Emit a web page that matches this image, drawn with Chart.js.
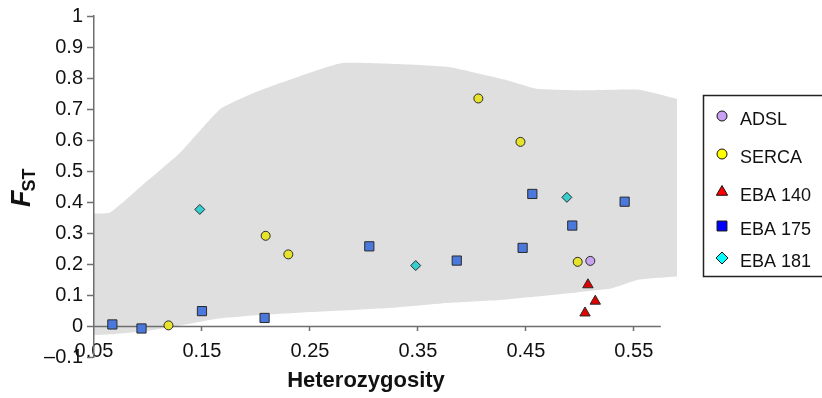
<!DOCTYPE html>
<html>
<head>
<meta charset="utf-8">
<script src="https://cdn.jsdelivr.net/npm/chart.js@4.4.1/dist/chart.umd.min.js"></script>
<style>
  html, body { margin: 0; padding: 0; background: #fff; }
</style>
</head>
<body>
<canvas id="chart" width="822" height="398"></canvas>
<script>
// simulated neutral envelope (grey band)
const shadeX     = [0.05, 0.065, 0.10, 0.13, 0.167, 0.20, 0.24, 0.28, 0.33, 0.38, 0.43, 0.46, 0.50, 0.53, 0.555, 0.59];
const shadeUpper = [0.363, 0.366, 0.47, 0.56, 0.70, 0.755, 0.805, 0.848, 0.845, 0.835, 0.795, 0.765, 0.76, 0.762, 0.762, 0.733];
const shadeLower = [-0.03, -0.027, -0.015, 0.002, 0.025, 0.035, 0.043, 0.05, 0.06, 0.075, 0.085, 0.095, 0.11, 0.122, 0.15, 0.16];

// loci
const adslX   = [0.5097];
const adslY   = [0.210];
const sercaX  = [0.119, 0.209, 0.230, 0.406, 0.445, 0.498];
const sercaY  = [0.002, 0.291, 0.231, 0.734, 0.594, 0.207];
const eba140X = [0.5075, 0.5143, 0.5048];
const eba140Y = [0.133, 0.080, 0.042];
const eba175X = [0.067, 0.094, 0.150, 0.208, 0.305, 0.386, 0.447, 0.456, 0.493, 0.5415];
const eba175Y = [0.005, -0.008, 0.048, 0.026, 0.257, 0.211, 0.252, 0.426, 0.324, 0.401];
const eba181X = [0.148, 0.348, 0.488];
const eba181Y = [0.376, 0.195, 0.415];

const xTickValues = [0.05, 0.15, 0.25, 0.35, 0.45, 0.55];
const xTickLabels = ['0.05', '0.15', '0.25', '0.35', '0.45', '0.55'];
const yTickValues = [-0.1, 0, 0.1, 0.2, 0.3, 0.4, 0.5, 0.6, 0.7, 0.8, 0.9, 1];
const yTickLabels = ['\u20130.1', '0', '0.1', '0.2', '0.3', '0.4', '0.5', '0.6', '0.7', '0.8', '0.9', '1'];
const xAxisEnd = 0.575;

const FONT = '"Liberation Sans", Arial, Helvetica, sans-serif';

function pts(xs, ys) {
    return xs.map((x, i) => ({ x: x, y: ys[i] }));
}

function marker(label, xs, ys, style, radius, fill, legendFill) {
    return {
        type: 'scatter',
        label: label,
        data: pts(xs, ys),
        pointStyle: style,
        pointRadius: radius,
        pointHoverRadius: radius,
        backgroundColor: fill,
        borderColor: '#2a2a2a',
        borderWidth: 1,
        legendFill: legendFill,
        order: 1
    };
}

const SHADE_INDEX = 5;

// titles, custom legend and the short x axis line
const decor = {
    id: 'decor',
    afterDatasetDraw(chart, args) {
        if (args.index !== SHADE_INDEX) return;
        const ctx = chart.ctx;
        const x = chart.scales.x, y = chart.scales.y;
        const yy = Math.round(y.getPixelForValue(0)) + 0.5;
        ctx.save();
        ctx.strokeStyle = '#6e6e6e';
        ctx.lineWidth = 1.5;
        ctx.beginPath();
        ctx.moveTo(x.getPixelForValue(0.05), yy);
        ctx.lineTo(x.getPixelForValue(xAxisEnd), yy);
        ctx.stroke();
        ctx.restore();
    },
    afterDraw(chart) {
        const ctx = chart.ctx;
        ctx.save();
        ctx.fillStyle = '#111';

        // x title
        ctx.font = 'bold 22px ' + FONT;
        ctx.textAlign = 'center';
        ctx.textBaseline = 'middle';
        ctx.fillText('Heterozygosity', 366, 381);

        // y title F_ST
        ctx.save();
        ctx.translate(30, 207);
        ctx.rotate(-Math.PI / 2);
        ctx.textAlign = 'left';
        ctx.textBaseline = 'alphabetic';
        ctx.font = 'italic bold 27px ' + FONT;
        ctx.fillText('F', 0, 0);
        const fw = ctx.measureText('F').width;
        ctx.font = 'bold 18px ' + FONT;
        ctx.fillText('ST', fw - 1, 5);
        ctx.restore();

        // legend box
        ctx.strokeStyle = '#222';
        ctx.lineWidth = 1.5;
        ctx.strokeRect(703.5, 95.5, 140, 181);
        const rows = [119, 157, 195, 229, 261];
        const items = chart.data.datasets.filter(d => d.legendFill);
        ctx.font = '18px ' + FONT;
        ctx.textAlign = 'left';
        ctx.textBaseline = 'middle';
        items.forEach((d, i) => {
            const sizes = { circle: 5, triangle: 6.5, rect: 7, rectRot: 6 };
            ctx.fillStyle = d.legendFill;
            ctx.strokeStyle = '#111';
            ctx.lineWidth = 1;
            Chart.helpers.drawPoint(ctx, { pointStyle: d.pointStyle, radius: sizes[d.pointStyle], rotation: 0, borderWidth: 1 }, 722, rows[i] - 3);
            ctx.fillStyle = '#111';
            ctx.fillText(d.label, 740, rows[i] + 1);
        });
        ctx.restore();
    }
};

new Chart(document.getElementById('chart'), {
    type: 'scatter',
    data: {
        datasets: [
            marker('ADSL', adslX, adslY, 'circle', 4.5, '#c9a3ef', '#c9a0f2'),
            marker('SERCA', sercaX, sercaY, 'circle', 4.5, '#e7e22c', '#ffff00'),
            marker('EBA 140', eba140X, eba140Y, 'triangle', 6, '#e00000', '#ff0000'),
            marker('EBA 175', eba175X, eba175Y, 'rect', 6.5, '#4a78dc', '#0000ff'),
            marker('EBA 181', eba181X, eba181Y, 'rectRot', 5, '#35cfcf', '#00ffff'),
            {
                type: 'line',
                label: 'upper',
                data: pts(shadeX, shadeUpper),
                fill: '+1',
                backgroundColor: '#dfdfdf',
                borderWidth: 0,
                pointRadius: 0,
                tension: 0.15,
                order: 10
            },
            {
                type: 'line',
                label: 'lower',
                data: pts(shadeX, shadeLower),
                fill: false,
                borderWidth: 0,
                pointRadius: 0,
                tension: 0.15,
                order: 10
            }
        ]
    },
    options: {
        responsive: false,
        animation: false,
        events: [],
        layout: { padding: { left: 0, right: 145, top: 15, bottom: 41 } },
        plugins: {
            legend: { display: false },
            tooltip: { enabled: false }
        },
        scales: {
            x: {
                type: 'linear',
                min: 0.05,
                max: 0.59,
                position: { y: 0 },
                afterBuildTicks: s => { s.ticks = xTickValues.map(v => ({ value: v })); },
                ticks: {
                    callback: (v, i) => xTickLabels[i],
                    autoSkip: false,
                    maxRotation: 0,
                    padding: 8,
                    color: '#111',
                    font: { family: FONT, size: 20 }
                },
                grid: { drawOnChartArea: false, drawTicks: true, tickLength: 5, tickColor: '#6e6e6e', tickWidth: 1.5 },
                border: { display: false }
            },
            y: {
                type: 'linear',
                min: -0.1,
                max: 1,
                position: 'left',
                afterFit: s => { s.width = 94; },
                afterBuildTicks: s => { s.ticks = yTickValues.map(v => ({ value: v })); },
                ticks: {
                    callback: (v, i) => yTickLabels[i],
                    autoSkip: false,
                    padding: 4,
                    color: '#111',
                    font: { family: FONT, size: 20 }
                },
                grid: { drawOnChartArea: false, drawTicks: true, tickLength: 7, tickColor: '#6e6e6e', tickWidth: 1.5 },
                border: { color: '#6e6e6e', width: 1.5, z: 1 }
            }
        }
    },
    plugins: [decor]
});
</script>
</body>
</html>
